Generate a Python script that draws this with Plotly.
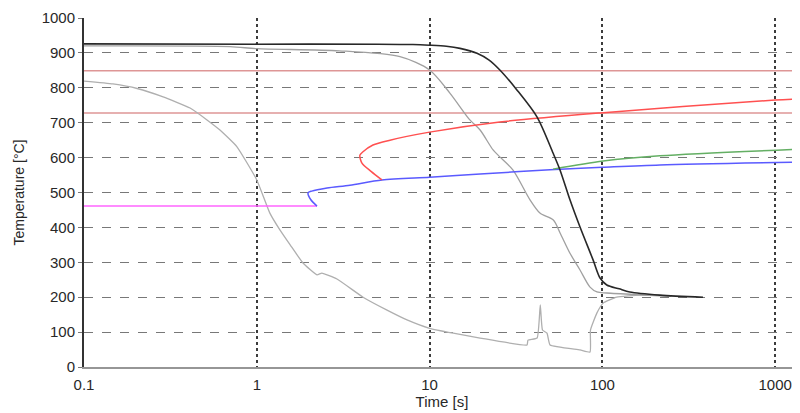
import plotly.graph_objects as go

# ---- data (time [s], temperature [°C]) ----
ac3_T = 849
ac1_T = 728
line_t_range = [0.1, 1390]

black_t = [0.1, 1, 5, 8, 10, 12.5, 15, 18.8, 22, 25.5, 32, 41.9, 51.8, 56.9, 64.9, 74.2, 88.3, 96.9, 106, 125, 144, 215, 382]
black_T = [926, 925, 925, 924, 922, 919, 913, 899, 880, 851, 794, 716, 613, 564, 479, 401, 307, 255, 235, 224, 215, 206, 200]

gray2_t = [0.1, 0.7, 1, 3, 6.74, 10, 13.1, 17.1, 19.6, 23.3, 25.5, 30.4, 38.1, 43.5, 52, 56.9, 64.9, 74.2, 84.8, 93, 106, 165, 250]
gray2_T = [920, 918, 912, 906, 889, 851, 785, 708, 679, 622, 602, 564, 479, 441, 421, 384, 326, 278, 229, 215, 212, 207, 203]

gray3_t = [0.1, 0.147, 0.203, 0.287, 0.411, 0.515, 0.612, 0.768, 1.0, 1.19, 1.36, 1.56, 1.85, 2.23, 2.38, 2.91, 4.12, 5.67, 7.4, 10, 13.7, 19.6, 36.6, 37.1, 41.9, 43.7, 45.0, 47.8, 49.8, 74.2, 84.8, 85.3, 93, 101, 121, 165, 250]
gray3_T = [819, 811, 798, 774, 742, 708, 679, 631, 536, 441, 393, 350, 298, 264, 269, 252, 200, 163, 135, 111, 97, 83, 63, 77, 83, 178, 106, 97, 63, 49, 43, 106, 155, 183, 200, 206, 203]

magenta_t = [0.1, 2.23]
magenta_T = [461, 461]

blue_t = [2.23, 2.05, 1.98, 2.08, 2.55, 3.46, 5.3, 10, 19.6, 49.8, 100, 215, 1390]
blue_T = [461, 480, 499, 504, 513, 521, 536, 544, 553, 565, 572, 579, 587]

red_t = [5.3, 4.6, 4.06, 3.95, 4.1, 4.7, 5.9, 10, 25.5, 97, 1000, 1390]
red_T = [536, 560, 584, 607, 616, 636, 650, 673, 702, 728, 765, 768]

green_t = [51.8, 101, 215, 1390]
green_T = [567, 590, 605, 624]

x_ticks = [0.1, 1, 10, 100, 1000]
x_ticktext = ["0.1", "1", "10", "100", "1000"]
y_ticks = [0, 100, 200, 300, 400, 500, 600, 700, 800, 900, 1000]

fig = go.Figure()

def add(t, T, color, width, shape="spline", smoothing=0.8):
    line = dict(color=color, width=width, shape=shape)
    if shape == "spline":
        line["smoothing"] = smoothing
    fig.add_trace(go.Scatter(x=t, y=T, mode="lines", line=line,
                             showlegend=False, hoverinfo="skip"))

add(line_t_range, [ac3_T, ac3_T], "rgb(222,150,150)", 1.5, "linear")
add(line_t_range, [ac1_T, ac1_T], "rgb(222,150,150)", 1.5, "linear")
add(gray3_t, gray3_T, "rgb(175,175,175)", 1.3, "spline", 0.4)
add(gray2_t, gray2_T, "rgb(160,160,160)", 1.3)
add(magenta_t, magenta_T, "rgb(255,100,255)", 1.5, "linear")
add(blue_t, blue_T, "rgb(90,90,255)", 1.5)
add(red_t, red_T, "rgb(255,80,80)", 1.5)
add(green_t, green_T, "rgb(100,175,100)", 1.5)
add(black_t, black_T, "rgb(40,40,40)", 1.6)

# page body has an 8px margin; figure sized so the plot fills to the window edge
fig.update_layout(
    width=792, height=405,
    margin=dict(l=76, r=0, t=10, b=46),
    plot_bgcolor="white", paper_bgcolor="white",
    font=dict(family="Liberation Sans, Arial, sans-serif", size=15, color="rgb(40,40,40)"),
)
fig.update_xaxes(
    type="log", range=[-1, 3.1435],
    tickvals=x_ticks, ticktext=x_ticktext,
    showgrid=True, gridcolor="rgb(60,60,60)", griddash="dot", gridwidth=1.5,
    showline=True, linecolor="rgb(150,150,150)", linewidth=2,
    zeroline=False, ticks="", ticklabelstandoff=3,
    title=dict(text="Time [s]", font=dict(size=15), standoff=4),
)
fig.update_yaxes(
    range=[0, 1000], tickvals=y_ticks,
    showgrid=True, gridcolor="rgb(120,120,120)", griddash="dash", gridwidth=1,
    showline=True, linecolor="rgb(50,50,50)", linewidth=2,
    zeroline=False, ticks="outside", ticklen=4, tickcolor="rgb(120,120,120)",
    title=dict(text="Temperature [°C]", font=dict(size=14), standoff=14),
)

fig.write_html("out.html")
